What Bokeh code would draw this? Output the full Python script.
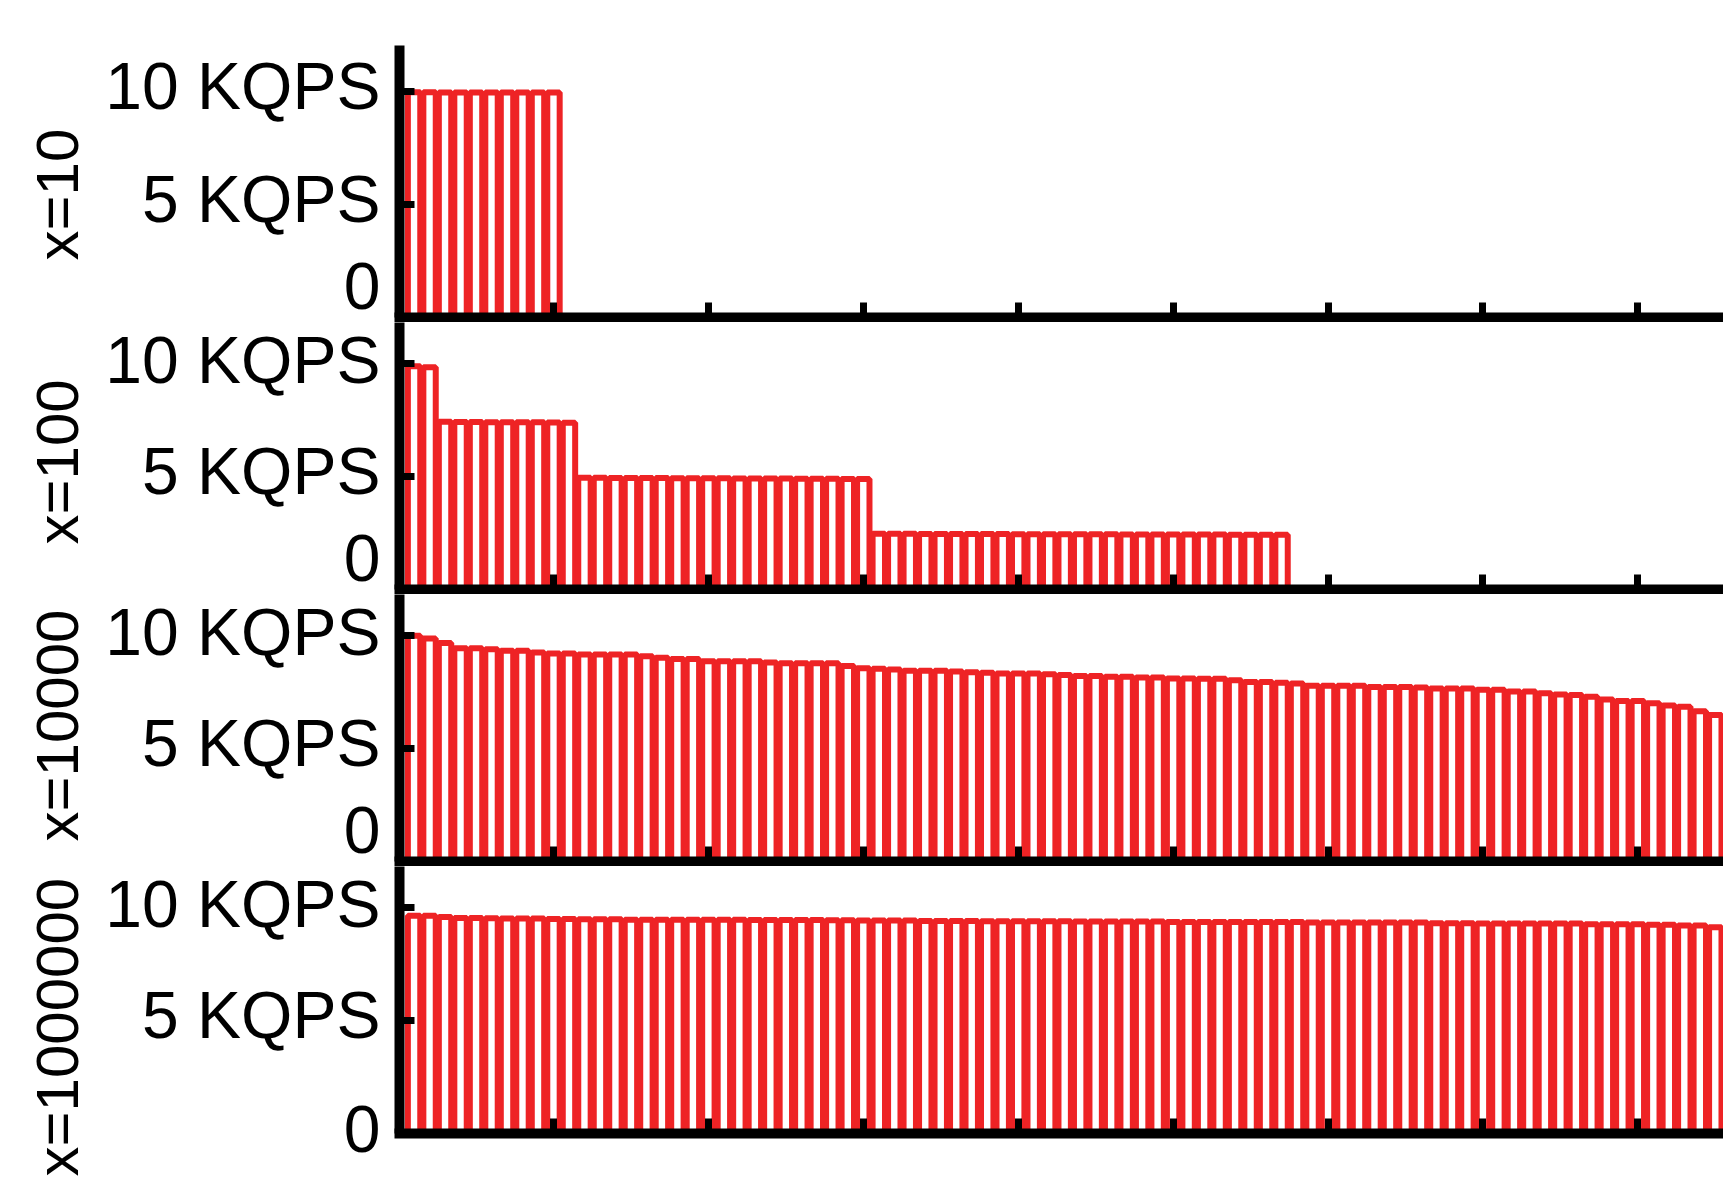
from bokeh.plotting import figure
from bokeh.layouts import column
from bokeh.models import Range1d, FixedTicker, Title, LinearAxis, CustomJSTickFormatter
from bokeh.embed import file_html
from bokeh.resources import INLINE

# ---------------- data ----------------
panel_labels = ["x=10", "x=100", "x=10000", "x=1000000"]

vals_x10 = [9.96, 9.96, 9.95, 9.95, 9.95, 9.95, 9.95, 9.95, 9.95, 9.95]

vals_x100 = [9.86, 9.81,
             7.41, 7.40, 7.40, 7.39, 7.39, 7.39, 7.38, 7.37, 7.36,
             4.93, 4.93, 4.92, 4.92, 4.92, 4.92, 4.91, 4.91, 4.91, 4.91,
             4.90, 4.90, 4.90, 4.90, 4.89, 4.89, 4.89, 4.88, 4.88,
             2.46, 2.46, 2.46, 2.45, 2.45, 2.45, 2.45, 2.45, 2.45, 2.44,
             2.44, 2.44, 2.44, 2.44, 2.44, 2.44, 2.43, 2.43, 2.43, 2.43,
             2.43, 2.43, 2.43, 2.42, 2.42, 2.42, 2.42]

vals_x10000 = [9.97, 9.85, 9.65, 9.42, 9.42, 9.37, 9.31, 9.31, 9.23, 9.19,
               9.19, 9.14, 9.14, 9.14, 9.14, 9.06, 9.00, 8.94, 8.94, 8.84,
               8.84, 8.84, 8.84, 8.79, 8.75, 8.75, 8.75, 8.75, 8.63, 8.53,
               8.51, 8.48, 8.42, 8.42, 8.42, 8.39, 8.36, 8.33, 8.30, 8.30,
               8.30, 8.27, 8.23, 8.19, 8.19, 8.16, 8.16, 8.13, 8.13, 8.08,
               8.08, 8.07, 8.07, 8.00, 7.93, 7.93, 7.89, 7.86, 7.76, 7.76,
               7.76, 7.76, 7.71, 7.71, 7.71, 7.68, 7.64, 7.64, 7.64, 7.58,
               7.58, 7.51, 7.51, 7.43, 7.37, 7.35, 7.27, 7.15, 7.09, 7.09,
               6.99, 6.89, 6.83, 6.64, 6.47]

vals_x1000000 = [9.62, 9.62, 9.56, 9.52, 9.52, 9.50, 9.49, 9.49, 9.49, 9.47,
                 9.47, 9.46, 9.46, 9.46, 9.44, 9.44, 9.44, 9.44, 9.44, 9.44,
                 9.44, 9.44, 9.43, 9.43, 9.43, 9.43, 9.43, 9.42, 9.42, 9.41,
                 9.41, 9.41, 9.41, 9.38, 9.38, 9.38, 9.38, 9.37, 9.37, 9.37,
                 9.37, 9.37, 9.37, 9.36, 9.36, 9.36, 9.36, 9.36, 9.36, 9.34,
                 9.34, 9.34, 9.34, 9.34, 9.34, 9.34, 9.34, 9.34, 9.32, 9.32,
                 9.32, 9.32, 9.32, 9.32, 9.32, 9.32, 9.28, 9.28, 9.28, 9.27,
                 9.27, 9.27, 9.27, 9.27, 9.27, 9.27, 9.24, 9.24, 9.24, 9.24,
                 9.22, 9.22, 9.19, 9.18, 9.11]

x_ticks = [0, 10, 20, 30, 40, 50, 60, 70, 80]
y_ticks = [0, 5, 10]
y_tick_labels = ["0", "5 KQPS", "10 KQPS"]

# ---------------- style ----------------
FONT = "Liberation Sans"
RED = "#EE2325"
FIG_W = 1723
LEFT = 399
LABEL_RAISE_PX = 5   # tick labels sit a little above their tick marks

x_range = Range1d(0.06, 85.53)


def make_panel(values, label, label_offset, top_b, frame_h, bottom_b, y_end):
    p = figure(width=FIG_W, height=top_b + frame_h + bottom_b,
               x_range=x_range, y_range=Range1d(0, y_end),
               output_backend="svg", toolbar_location=None,
               min_border_left=LEFT, min_border_right=0,
               min_border_top=top_b, min_border_bottom=bottom_b)
    p.outline_line_color = None
    p.xgrid.visible = False
    p.ygrid.visible = False
    p.background_fill_color = "white"
    p.border_fill_color = "white"

    xs = list(range(1, len(values) + 1))
    p.vbar(x=xs, top=values, bottom=0, width=0.8,
           fill_color="white", line_color=RED, line_width=6)

    xa = p.xaxis[0]
    xa.ticker = FixedTicker(ticks=x_ticks)
    xa.major_label_text_font_size = "0px"
    xa.major_label_text_color = None
    xa.major_label_standoff = 0
    xa.major_tick_in = 15
    xa.major_tick_out = 0
    xa.major_tick_line_width = 7
    xa.major_tick_line_color = "black"
    xa.minor_tick_line_color = None
    xa.axis_line_width = 10
    xa.axis_line_color = "black"
    xa.axis_line_cap = "square"

    # axis with the line and tick marks (no labels)
    ya = p.yaxis[0]
    ya.ticker = FixedTicker(ticks=y_ticks)
    ya.major_label_text_font_size = "0px"
    ya.major_label_text_color = None
    ya.major_label_standoff = 0
    ya.major_tick_in = 15
    ya.major_tick_out = 0
    ya.major_tick_line_width = 7
    ya.major_tick_line_color = "black"
    ya.minor_tick_line_color = None
    ya.axis_line_width = 10
    ya.axis_line_color = "black"

    # axis carrying only the tick labels, slightly raised
    raise_units = LABEL_RAISE_PX * y_end / frame_h
    lab_axis = LinearAxis(
        ticker=FixedTicker(ticks=[t + raise_units for t in y_ticks]),
        formatter=CustomJSTickFormatter(args=dict(labels=y_tick_labels),
                                        code="return labels[index]"),
        axis_line_color=None, major_tick_line_color=None,
        minor_tick_line_color=None, major_tick_in=0, major_tick_out=0,
        major_label_text_font=FONT, major_label_text_font_size="66px",
        major_label_text_color="black", major_label_standoff=19)
    p.add_layout(lab_axis, "left")

    t = Title(text=label, text_font=FONT, text_font_size="60px",
              text_font_style="normal", text_color="black",
              align="left", offset=label_offset, standoff=24)
    p.add_layout(t, "left")
    return p


p1 = make_panel(vals_x10, panel_labels[0], 57, 45, 272, 5, 12.03)
p2 = make_panel(vals_x100, panel_labels[1], 45, 0, 267, 5, 11.79)
p3 = make_panel(vals_x10000, panel_labels[2], 20, 0, 267, 5, 11.79)
p4 = make_panel(vals_x1000000, panel_labels[3], -43, 0, 267, 47, 11.79)

layout = column(p1, p2, p3, p4, spacing=0)

open("out.html", "w").write(file_html(layout, INLINE))
